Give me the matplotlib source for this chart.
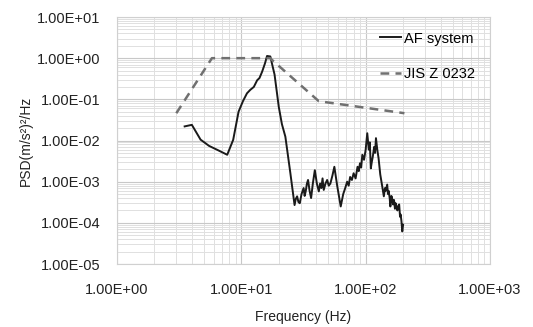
import matplotlib.pyplot as plt
from matplotlib.ticker import FuncFormatter, LogLocator

plt.rcParams['font.family'] = ['Liberation Sans', 'DejaVu Sans']

# AF system measured PSD
af_freq = [3.5, 4.0, 4.7, 5.5, 6.5, 7.7, 8.6, 9.5, 10.3, 11.1, 11.8, 12.6, 13.4, 14.0, 14.7, 15.5,
           16.1, 17.1, 18.5, 20.0, 21.2, 22.6, 24.8, 26.8, 27.4, 28.1, 28.8, 29.5, 30.5, 31.7, 32.3,
           33.0, 33.7, 34.4, 35.4, 36.4, 37.6, 39.0, 40.5, 42.0, 43.0, 44.0, 45.0, 46.0, 47.5, 49.0,
           50.5, 52.0, 54.0, 56.0, 59.0, 63.0, 66.0, 68.5, 71.0, 73.0, 75.0, 77.5, 80.0, 83.0, 86.0,
           88.0, 90.0, 92.0, 94.0, 97.0, 100.0, 103.0, 106.0, 108.0, 110.0, 112.0, 114.0, 117.0,
           119.0, 121.0, 124.0, 127.0, 131.0, 136.0, 140.0, 143.0, 145.0, 149.0, 151.0, 153.0, 156.0,
           158.0, 161.0, 163.0, 166.0, 169.0, 172.0, 174.0, 177.0, 180.0, 183.0, 186.0, 189.0, 191.0,
           194.0, 197.0, 200.0]
af_psd = [0.022, 0.024, 0.0105, 0.0074, 0.0058, 0.0045, 0.0104, 0.05, 0.09, 0.14, 0.17, 0.2,
          0.29, 0.33, 0.47, 0.75, 1.13, 1.1, 0.4, 0.066, 0.025, 0.0124, 0.0016, 0.00027, 0.00038,
          0.00044, 0.00032, 0.0003, 0.0005, 0.0007, 0.00045, 0.0006, 0.0009, 0.0011, 0.0006, 0.0004,
          0.0009, 0.0019, 0.0009, 0.00058, 0.0009, 0.0007, 0.0012, 0.00063, 0.0009, 0.0011, 0.0008,
          0.0009, 0.0014, 0.0023, 0.0008, 0.00025, 0.0005, 0.0007, 0.001, 0.0008, 0.0013, 0.0011,
          0.0016, 0.0012, 0.0023, 0.0018, 0.0028, 0.0022, 0.0045, 0.0034, 0.006, 0.015, 0.006,
          0.009, 0.0021, 0.003, 0.004, 0.007, 0.005, 0.0114, 0.006, 0.0037, 0.0015, 0.00076, 0.00044,
          0.0007, 0.0006, 0.00085, 0.0005, 0.0006, 0.0004, 0.00025, 0.00045, 0.0004, 0.00028,
          0.00036, 0.00022, 0.0003, 0.00024, 0.0002, 0.00026, 0.00028, 0.00014, 0.00016, 0.00011,
          0.000062, 0.00009]

# JIS Z 0232 reference spectrum
jis_freq = [3, 5.8, 17, 42, 205]
jis_psd = [0.046, 1.0, 1.0, 0.09, 0.046]

fig = plt.figure(figsize=(5.33, 3.27), dpi=100)
ax = fig.add_axes([117 / 533, 1 - 264 / 327, (490 - 117) / 533, (264 - 17) / 327])

ax.plot(af_freq, af_psd, color='#1a1a1a', lw=1.4, label='AF system')
ax.plot(jis_freq, jis_psd, color='#707070', lw=1.8, ls=(0, (3.5, 2.5)), label='JIS Z 0232')

ax.set_xscale('log')
ax.set_yscale('log')
ax.set_xlim(1, 1000)
ax.set_ylim(1e-5, 10)

fmt = FuncFormatter(lambda v, p: f'{v:.2E}')
ax.xaxis.set_major_formatter(fmt)
ax.yaxis.set_major_formatter(fmt)
ax.xaxis.set_major_locator(LogLocator(base=10, numticks=10))
ax.yaxis.set_major_locator(LogLocator(base=10, numticks=10))
ax.xaxis.set_minor_locator(LogLocator(base=10, subs=range(2, 10), numticks=10))
ax.yaxis.set_minor_locator(LogLocator(base=10, subs=range(2, 10), numticks=10))

ax.grid(which='major', color='#c8c8c8', lw=0.8)
ax.grid(which='minor', color='#e0e0e0', lw=0.7)
ax.set_axisbelow(True)
ax.tick_params(which='both', length=0, labelsize=10.5, colors='#222222')
ax.tick_params(axis='x', pad=14)
ax.tick_params(axis='y', pad=12)
for s in ax.spines.values():
    s.set_color('#d0d0d0')
    s.set_linewidth(0.8)

ax.set_xlabel('Frequency (Hz)', fontsize=10, color='#222222', labelpad=9)
ax.set_ylabel('PSD(m/s²)²/Hz', fontsize=10, color='#222222', labelpad=3)

ax.legend(loc='upper right', frameon=False, fontsize=10.5, handlelength=1.5, handletextpad=0.2,
          labelspacing=1.5, borderaxespad=0.6)

fig.savefig('out.png', dpi=100)
